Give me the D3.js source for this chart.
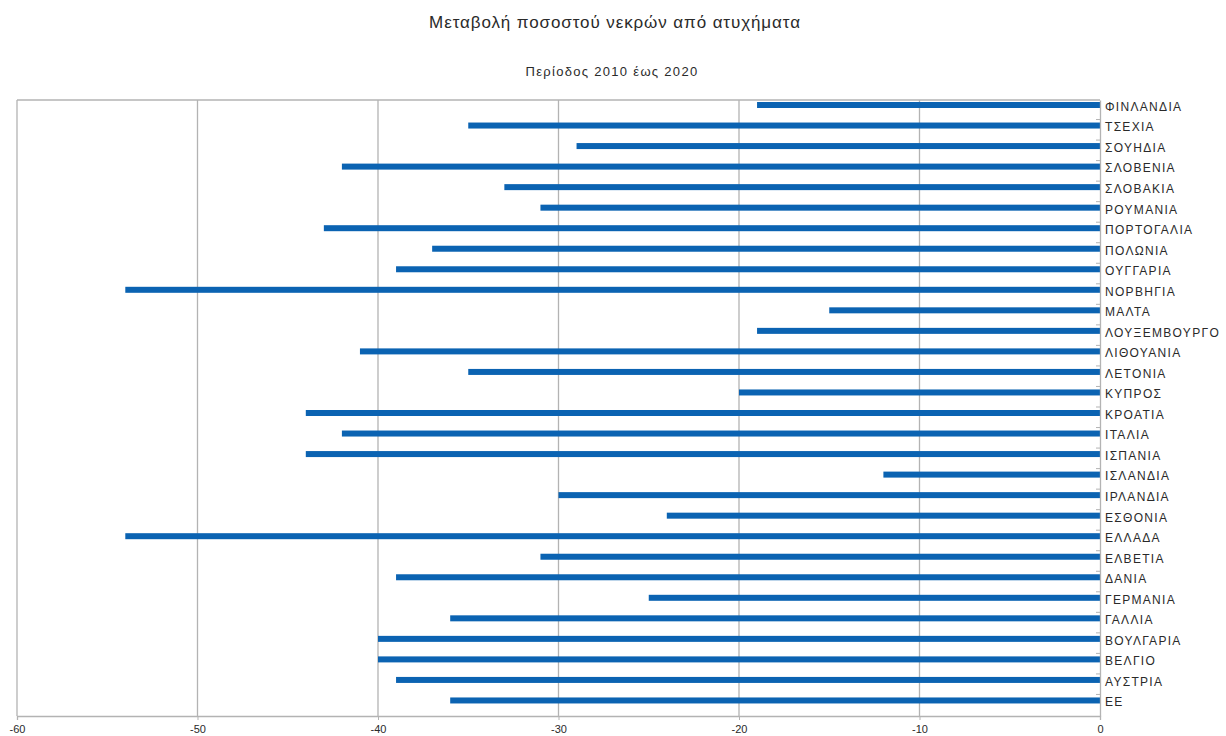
<!DOCTYPE html>
<html><head><meta charset="utf-8">
<script src="https://cdn.jsdelivr.net/npm/d3@7"></script>
<style>body{margin:0;background:#fff;} text{font-family:"Liberation Sans",Arial,sans-serif;}</style>
</head><body>
<svg id="c" width="1226" height="736"></svg>
<script>
const categories = ["ΦΙΝΛΑΝΔΙΑ","ΤΣΕΧΙΑ","ΣΟΥΗΔΙΑ","ΣΛΟΒΕΝΙΑ","ΣΛΟΒΑΚΙΑ","ΡΟΥΜΑΝΙΑ","ΠΟΡΤΟΓΑΛΙΑ","ΠΟΛΩΝΙΑ","ΟΥΓΓΑΡΙΑ","ΝΟΡΒΗΓΙΑ","ΜΑΛΤΑ","ΛΟΥΞΕΜΒΟΥΡΓΟ","ΛΙΘΟΥΑΝΙΑ","ΛΕΤΟΝΙΑ","ΚΥΠΡΟΣ","ΚΡΟΑΤΙΑ","ΙΤΑΛΙΑ","ΙΣΠΑΝΙΑ","ΙΣΛΑΝΔΙΑ","ΙΡΛΑΝΔΙΑ","ΕΣΘΟΝΙΑ","ΕΛΛΑΔΑ","ΕΛΒΕΤΙΑ","ΔΑΝΙΑ","ΓΕΡΜΑΝΙΑ","ΓΑΛΛΙΑ","ΒΟΥΛΓΑΡΙΑ","ΒΕΛΓΙΟ","ΑΥΣΤΡΙΑ","ΕΕ"];
const values = [-19,-35,-29,-42,-33,-31,-43,-37,-39,-54,-15,-19,-41,-35,-20,-44,-42,-44,-12,-30,-24,-54,-31,-39,-25,-36,-40,-40,-39,-36];
const xTicks = [-60,-50,-40,-30,-20,-10,0];
const title = "Μεταβολή ποσοστού νεκρών από ατυχήματα";
const subtitle = "Περίοδος 2010 έως 2020";

const svg = d3.select("#c");
const L = 17, R = 1100, T = 100, B = 716;
const x = d3.scaleLinear().domain([-60, 0]).range([L, R]);
const y = d3.scaleBand().domain(categories).range([T, B]).paddingInner(0).paddingOuter(0);
const grid = "#b3b3b3";
const txt = "#2a2a2a";

svg.append("text").attr("x", 615).attr("y", 28).attr("text-anchor", "middle")
  .attr("font-size", 17).attr("letter-spacing", 0.9).attr("fill", txt).text(title);
svg.append("text").attr("x", 612).attr("y", 76).attr("text-anchor", "middle")
  .attr("font-size", 13).attr("letter-spacing", 1.3).attr("fill", txt).text(subtitle);

// grid lines
svg.append("g").selectAll("line").data(xTicks.filter(d => d !== 0)).join("line")
  .attr("x1", d => x(d)).attr("x2", d => x(d)).attr("y1", T).attr("y2", B)
  .attr("stroke", grid).attr("stroke-width", 1.3);
// top border
svg.append("line").attr("x1", L).attr("x2", R).attr("y1", T).attr("y2", T)
  .attr("stroke", grid).attr("stroke-width", 1.3);

// bars
const bw = 6;
svg.append("g").selectAll("rect").data(values).join("rect")
  .attr("x", d => x(d)).attr("width", d => x(0) - x(d))
  .attr("y", (d, i) => y(categories[i]) + 5 - bw / 2).attr("height", bw)
  .attr("fill", "#0b63b2");

// x axis
const xAxis = svg.append("g").attr("transform", `translate(0,${B})`)
  .call(d3.axisBottom(x).tickValues(xTicks).tickSize(4).tickPadding(5).tickFormat(d3.format("d")));
xAxis.select(".domain").attr("stroke", grid).attr("stroke-width", 1.3);
xAxis.selectAll(".tick line").attr("stroke", grid);
xAxis.selectAll(".tick text").attr("font-size", 11).attr("fill", txt)
  .attr("font-family", "Liberation Sans, Arial, sans-serif").text(d => d === 0 ? "0" : "-" + Math.abs(d));

// y axis at 0
const yAxis = svg.append("g").attr("transform", `translate(${R},0)`)
  .call(d3.axisRight(y).tickSize(0).tickPadding(5));
yAxis.select(".domain").attr("stroke", grid).attr("stroke-width", 1.3);
yAxis.selectAll(".tick").attr("transform", d => `translate(0,${y(d) + 7})`);
yAxis.selectAll(".tick text").attr("font-size", 12).attr("letter-spacing", 1.3).attr("fill", txt)
  .attr("font-family", "Liberation Sans, Arial, sans-serif");
// small inner ticks at band boundaries
svg.append("g").selectAll("line").data(categories.slice(1)).join("line")
  .attr("x1", R - 4).attr("x2", R).attr("y1", d => y(d) - 1).attr("y2", d => y(d) - 1)
  .attr("stroke", grid).attr("stroke-width", 1);
</script>
</body></html>
